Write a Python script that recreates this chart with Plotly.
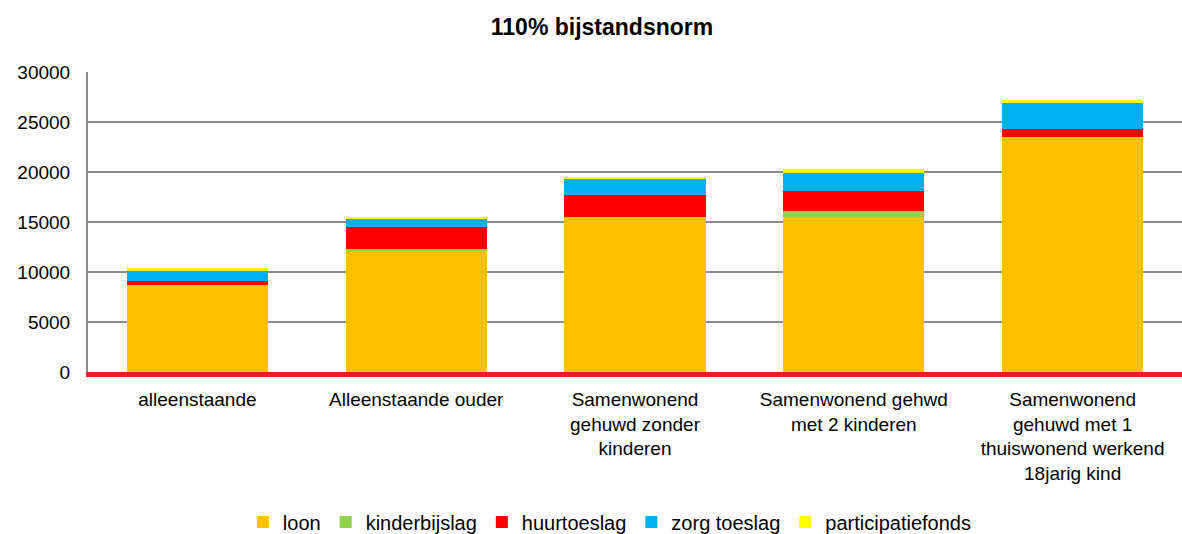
import plotly.graph_objects as go

categories = [
    "alleenstaande",
    "Alleenstaande ouder",
    "Samenwonend<br>gehuwd zonder<br>kinderen",
    "Samenwonend gehwd<br>met 2 kinderen",
    "Samenwonend<br>gehuwd met 1<br>thuiswonend werkend<br>18jarig kind",
]
loon = [8750, 12150, 15500, 15500, 23500]
kinderbijslag = [0, 150, 0, 600, 0]
huurtoeslag = [400, 2200, 2200, 2000, 800]
zorg_toeslag = [1000, 800, 1600, 1800, 2600]
participatiefonds = [250, 250, 250, 450, 270]

series = [
    ("loon", loon, "#FFC000"),
    ("kinderbijslag", kinderbijslag, "#92D050"),
    ("huurtoeslag", huurtoeslag, "#FF0000"),
    ("zorg toeslag", zorg_toeslag, "#00B0F0"),
    ("participatiefonds", participatiefonds, "#FFFF00"),
]

fig = go.Figure()
for name, vals, col in series:
    fig.add_trace(go.Bar(x=categories, y=vals, name=name,
                         marker=dict(color=col, line=dict(width=0))))

font_family = "Liberation Sans, Arial, sans-serif"
fig.update_layout(
    barmode="stack",
    bargap=0.355,
    width=1182, height=534,
    margin=dict(l=88, r=0, t=72, b=162, autoexpand=False),
    plot_bgcolor="white", paper_bgcolor="white",
    font=dict(family=font_family, size=19, color="#000000"),
    title=dict(text="<b>110% bijstandsnorm</b>", x=602 / 1182, xanchor="center",
               y=1 - 27 / 534, yanchor="middle",
               font=dict(size=23, family=font_family, color="#000000")),
    showlegend=True,
    legend=dict(orientation="h", x=0.477, xanchor="center",
                yref="container", y=1 - 522 / 534, yanchor="middle",
                font=dict(size=20), traceorder="normal", itemclick=False,
                itemwidth=30, tracegroupgap=0),
    yaxis=dict(range=[0, 30000], dtick=5000, tickformat="d", showgrid=True,
               gridcolor="#8C8C8C", gridwidth=1.5, showline=True,
               linecolor="#8C8C8C", linewidth=2, ticks="", zeroline=False,
               ticklabelstandoff=12, tickfont=dict(size=19)),
    xaxis=dict(showline=True, linecolor="#ED1C24", linewidth=5, ticks="",
               tickfont=dict(size=19), tickangle=0, ticklabelstandoff=6),
)

fig.write_html("out.html", config={"displayModeBar": False},
               post_script="document.body.style.margin='0';")
